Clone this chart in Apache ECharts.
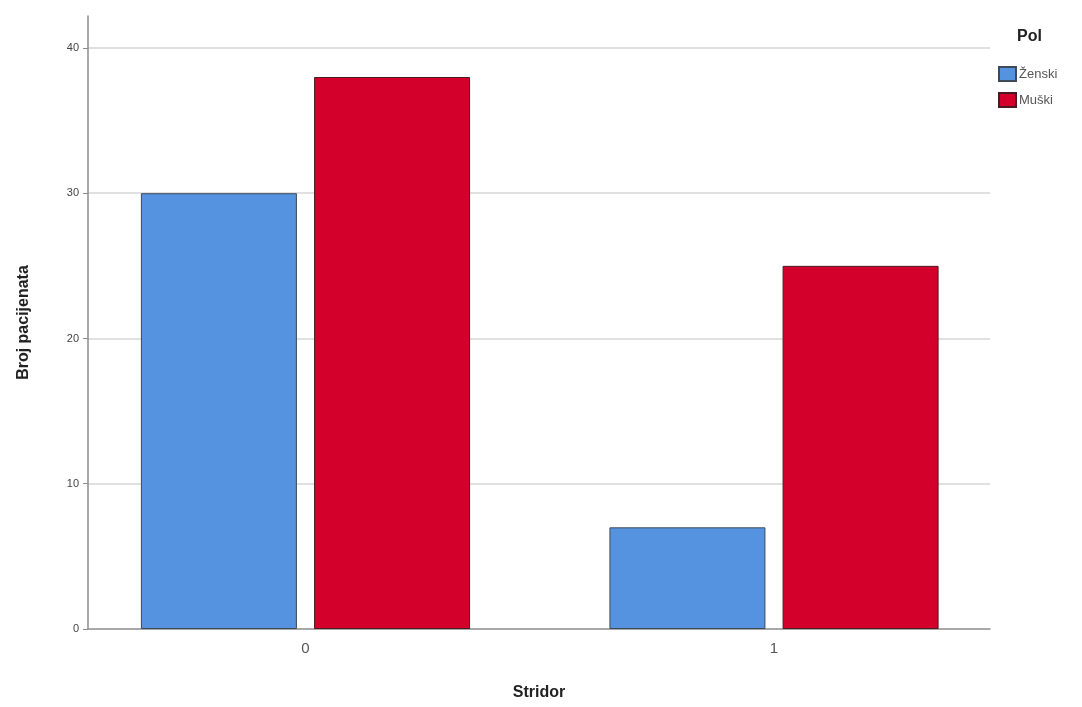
<!DOCTYPE html>
<html>
<head>
<meta charset="utf-8">
<script src="https://cdn.jsdelivr.net/npm/echarts@6/dist/echarts.min.js"></script>
<style>html,body{margin:0;padding:0;background:#fff}#c{width:1082px;height:707px}</style>
</head>
<body>
<div id="c"></div>
<script>
const categories = ['0', '1'];
const seriesNames = ['Ženski', 'Muški'];
const zenskiValues = [30, 7];
const muskiValues = [38, 25];
const yTicks = [0, 10, 20, 30, 40];
const colors = ['#5592df', '#d2002b'];

const chart = echarts.init(document.getElementById('c'));
const toData = vals => vals.map((v, i) => [i, v]);
chart.setOption({
  animation: false,
  backgroundColor: '#ffffff',
  grid: { left: 88, right: 92, top: 16, bottom: 78 },
  xAxis: {
    type: 'value',
    min: -0.4642,
    max: 1.461,
    name: 'Stridor',
    nameLocation: 'middle',
    nameGap: 56,
    nameTextStyle: { fontFamily: 'Liberation Sans', fontWeight: 'bold', fontSize: 16, color: '#222' },
    axisLine: { show: true, onZero: false, lineStyle: { color: '#8c8c8c', width: 1.5 } },
    axisTick: { show: false },
    splitLine: { show: false },
    axisLabel: {
      customValues: categories.map((c, i) => i),
      formatter: v => categories[Math.round(v)],
      fontFamily: 'Liberation Sans', fontSize: 15, color: '#555', margin: 12
    }
  },
  yAxis: {
    type: 'value',
    min: 0,
    max: 42.2,
    interval: 10,
    name: 'Broj pacijenata',
    nameLocation: 'middle',
    nameGap: 56,
    nameTextStyle: { fontFamily: 'Liberation Sans', fontWeight: 'bold', fontSize: 16, color: '#222' },
    axisLine: { show: true, onZero: false, lineStyle: { color: '#8c8c8c', width: 1.5 } },
    axisTick: { show: true, customValues: yTicks, length: 5, lineStyle: { color: '#8c8c8c' } },
    axisLabel: { customValues: yTicks, fontFamily: 'Liberation Sans', fontSize: 11, color: '#444', margin: 9 },
    splitLine: { show: true, showMinLine: false, lineStyle: { color: '#d6d6d6', width: 1.5 } }
  },
  legend: {
    orient: 'vertical',
    left: 993,
    top: 61,
    itemWidth: 17,
    itemHeight: 14,
    itemGap: 10,
    icon: 'rect',
    textStyle: { fontFamily: 'Liberation Sans', fontSize: 13, color: '#555', padding: [0, 0, 0, -2] },
    data: seriesNames
  },
  graphic: [{
    type: 'text', left: 1017, top: 29,
    style: { text: 'Pol', font: 'bold 16px "Liberation Sans"', fill: '#222' }
  }],
  series: [
    {
      name: seriesNames[0], type: 'bar', data: toData(zenskiValues),
      barWidth: 156, barGap: '11%',
      itemStyle: { color: colors[0], borderColor: '#3c4a5a', borderWidth: 1 }
    },
    {
      name: seriesNames[1], type: 'bar', data: toData(muskiValues),
      barWidth: 156, barGap: '11%',
      itemStyle: { color: colors[1], borderColor: '#4a1a22', borderWidth: 1 }
    }
  ]
});
</script>
</body>
</html>
